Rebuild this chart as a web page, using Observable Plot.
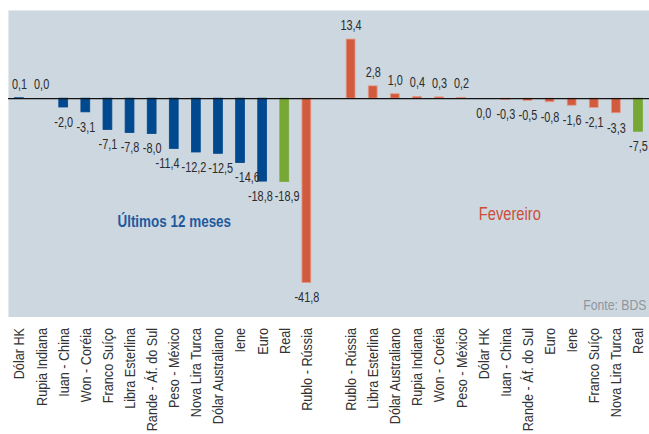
<!DOCTYPE html>
<html>
<head>
<meta charset="utf-8">
<script src="https://cdn.jsdelivr.net/npm/d3@7"></script>
<script src="https://cdn.jsdelivr.net/npm/@observablehq/plot@0.6"></script>
<style>
  html, body { margin: 0; padding: 0; background: #fff; overflow: hidden; width: 649px; height: 434px; }
  #chart svg { display: block; }
</style>
</head>
<body>
<div id="chart"></div>
<script>
// Últimos 12 meses
const currenciesYear = ["Dólar HK", "Rupia Indiana", "Iuan - China", "Won - Coréia", "Franco Suíço", "Libra Esterlina", "Rande - Áf. do Sul", "Peso - México", "Nova Lira Turca", "Dólar Australiano", "Iene", "Euro", "Real", "Rublo - Rússia"];
const valuesYear = [0.1, 0.0, -2.0, -3.1, -7.1, -7.8, -8.0, -11.4, -12.2, -12.5, -14.6, -18.8, -18.9, -41.8];
// Fevereiro
const currenciesFeb = ["Rublo - Rússia", "Libra Esterlina", "Dólar Australiano", "Rupia Indiana", "Won - Coréia", "Peso - México", "Dólar HK", "Iuan - China", "Rande - Áf. do Sul", "Euro", "Iene", "Franco Suíço", "Nova Lira Turca", "Real"];
const valuesFeb = [13.4, 2.8, 1.0, 0.4, 0.3, 0.2, 0.0, -0.3, -0.5, -0.8, -1.6, -2.1, -3.3, -7.5];
const groupLabels = ["Últimos 12 meses", "Fevereiro"];
const source = "Fonte: BDS";

const BLUE = "#00498f", RED = "#d25b3e", GREEN = "#77a836";
const font = "'Liberation Sans', Arial, sans-serif";

// slots 0..13 first group, slot 14 empty, 15..28 second group
const rows = [];
currenciesYear.forEach((c, i) => rows.push({slot: i, name: c, value: valuesYear[i],
  color: c === "Real" ? GREEN : c === "Rublo - Rússia" ? RED : BLUE}));
currenciesFeb.forEach((c, i) => rows.push({slot: 15 + i, name: c, value: valuesFeb[i],
  color: c === "Real" ? GREEN : RED}));
const domain = d3.range(29);
const nameBySlot = new Map(rows.map(d => [d.slot, d.name]));
const fmt = v => v.toFixed(1).replace(".", ",").replace(/^-0,0$/, "0,0");

const isAbove = d => d.value > 0 || (d.value === 0 && d.slot < 14);
const pos = rows.filter(isAbove);
const neg = rows.filter(d => !isAbove(d));

const chart = Plot.plot({
  width: 652,
  height: 434,
  marginLeft: 8,
  marginRight: 0,
  marginTop: 10,
  marginBottom: 116,
  style: {fontFamily: font, fontSize: "14px", color: "#333", background: "transparent", overflow: "visible"},
  x: {type: "band", domain, paddingInner: 0.6, paddingOuter: 0.3, round: false, label: null,
      tickFormat: d => nameBySlot.get(d) ?? "", tickRotate: -90, tickSize: 0, tickPadding: 11},
  y: {domain: [-49.5, 20], axis: null},
  color: {type: "identity"},
  marks: [
    Plot.frame({fill: "#cdd7e0", stroke: null}),
    Plot.barY(rows, {x: "slot", y: "value", fill: "color",
      stroke: d => d.color === RED ? "#e49a88" : d.color, strokeWidth: 0.8}),
    Plot.ruleY([0], {stroke: "#111", strokeWidth: 1.2}),
    Plot.text(pos, {x: "slot", y: "value", text: d => fmt(d.value), dy: -14, lineAnchor: "middle", fill: "#2b2b2b", fontSize: 14}),
    Plot.text(neg, {x: "slot", y: "value", text: d => fmt(d.value), dy: 15, lineAnchor: "middle", fill: "#2b2b2b", fontSize: 14}),
    Plot.text([groupLabels[0]], {x: [7], y: [-27.9], text: d => d, fill: "#1f5a9e", fontSize: 16.5, fontWeight: "bold", lineAnchor: "middle"}),
    Plot.text([groupLabels[1]], {x: [22], y: [-26.3], text: d => d, dx: 4, fill: "#cc4e3a", fontSize: 18, lineAnchor: "middle"}),
    Plot.text([source], {frameAnchor: "bottom-right", dx: -3, dy: -7, text: d => d, fill: "#8f969c", fontSize: 15})
  ]
});
// text mark groups in order: positive labels, negative labels, group labels, source
const textGroups = Array.from(chart.querySelectorAll("g[aria-label='text']"));
const valueGroups = textGroups.slice(0, 2);
// narrow glyphs (Arial Narrow-like) by compressing along the text direction
chart.querySelectorAll("text").forEach(t => {
  const T = t.getAttribute("transform");
  const isValue = valueGroups.some(g => g.contains(t));
  if (T) t.setAttribute("transform", T + ` scale(${isValue ? 0.78 : 0.82},1)`);
});
chart.querySelectorAll("[aria-label='x-axis tick label'] text").forEach(t => t.setAttribute("font-size", "15.5"));
document.getElementById("chart").appendChild(chart);

// nudge touching negative value labels apart horizontally
const negTexts = valueGroups[1] ? Array.from(valueGroups[1].querySelectorAll("text")) : [];
const parseT = t => {
  const m = /translate\(([-\d.e]+),\s*([-\d.e]+)\)/.exec(t.getAttribute("transform"));
  return m ? [+m[1], +m[2]] : null;
};
const items = negTexts.map(t => {
  const r = t.getBoundingClientRect();
  const p = parseT(t);
  return {t, p, cx: r.left + r.width / 2, cy: r.top + r.height / 2, w: r.width, h: r.height, dx: 0};
}).filter(d => d.p).sort((a, b) => a.cx - b.cx);
for (let iter = 0; iter < 20; iter++) {
  for (let i = 1; i < items.length; i++) {
    const a = items[i - 1], b = items[i];
    if (Math.abs(a.cy - b.cy) > 10) continue;
    const gap = (b.cx + b.dx) - (a.cx + a.dx) - (a.w + b.w) / 2 - 2;
    if (gap < 0) { a.dx += gap / 2; b.dx -= gap / 2; }
  }
}
items.forEach(d => {
  if (d.dx) d.t.setAttribute("transform",
    d.t.getAttribute("transform").replace(/translate\([^)]*\)/, `translate(${d.p[0] + d.dx},${d.p[1]})`));
});
</script>
</body>
</html>
